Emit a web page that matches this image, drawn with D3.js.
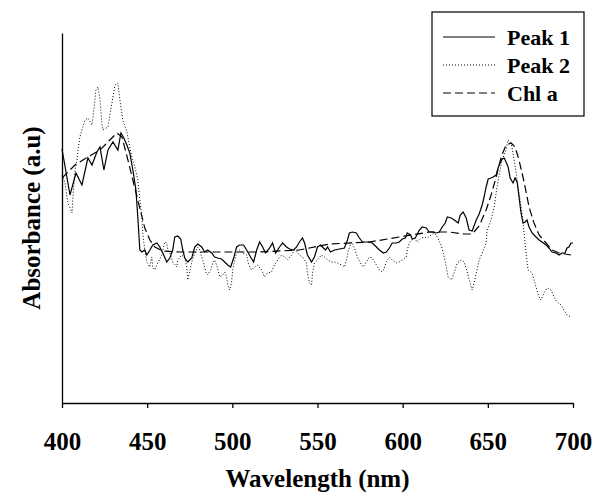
<!DOCTYPE html>
<html>
<head>
<meta charset="utf-8">
<script src="https://cdn.jsdelivr.net/npm/d3@7"></script>
<style>
  body { margin: 0; background: #fff; }
  svg text { font-family: "Liberation Serif", "Times New Roman", "DejaVu Serif", serif; font-weight: bold; fill: #000; }
</style>
</head>
<body>
<div id="viz"></div>
<script>
const width = 599;
const height = 493;
const margin = {top: 33, right: 25, bottom: 90, left: 62};
const fontFamily = '"Liberation Serif", "Times New Roman", "DejaVu Serif", serif';

// Peak 1 (solid)
const peak1Nm = [400, 404.7, 408.2, 411.7, 415.2, 417.6, 420.5, 422.3, 424.6, 427, 429.9, 432.8, 434.6, 436.3, 438.1, 439.8, 441.6, 443.4, 444.5, 445.7,
  446.9, 448.6, 449.8, 451.6, 453.3, 455.7, 457.4, 459.2, 461.5, 463.3, 465, 466.2, 468, 469.7, 470.9, 472.1, 473.8, 476.2, 477.9, 479.7,
  482, 483.8, 485.5, 487.9, 489.6, 491.4, 493.7, 495.5, 497.3, 499, 500.8, 502.5, 504.3, 506.6, 508.4, 510.7, 512.5, 514.3, 516, 517.8,
  519.5, 521.9, 523.6, 525.4, 527.7, 529.5, 531.8, 533.6, 535.9, 537.7, 539.4, 541.2, 542.4, 544.1, 546.5, 548.2, 550, 551.8, 552.9, 554.7,
  555.9, 557.6, 560, 562.9, 565.8, 567.6, 568.7, 570.5, 572.8, 574.6, 576.4, 578.7, 580.5, 582.2, 584.6, 586.3, 588.7, 590.4, 592.2, 593.9,
  596.3, 598, 599.8, 601.6, 602.7, 604.5, 605.7, 607.4, 609.8, 611.5, 613.9, 615.6, 617.4, 619.7, 621.5, 623.2, 625, 626.2, 628.5, 630.3,
  632.6, 633.8, 635.5, 637.3, 639, 640.8, 643.2, 644.9, 646.7, 647.8, 649, 650.2, 651.9, 653.1, 654.9, 656, 657.2, 658.4, 659.6, 660.7,
  661.9, 663.1, 664.8, 666, 667.2, 668.3, 669.5, 670.7, 671.9, 673, 674.2, 676, 678.3, 680.1, 681.8, 684.2, 685.9, 687.7, 690, 691.8,
  693.5, 695.3, 696.5, 697.6, 698.8, 700];
const peak1Abs = [2.54, 2.08, 2.30, 2.18, 2.45, 2.38, 2.51, 2.56, 2.33, 2.53, 2.61, 2.53, 2.70, 2.65, 2.58, 2.50, 2.33, 2.13, 1.86, 1.53,
  1.51, 1.53, 1.48, 1.53, 1.58, 1.60, 1.56, 1.50, 1.41, 1.45, 1.53, 1.66, 1.67, 1.64, 1.53, 1.45, 1.41, 1.45, 1.56, 1.59,
  1.56, 1.51, 1.53, 1.50, 1.46, 1.45, 1.44, 1.41, 1.38, 1.36, 1.45, 1.56, 1.58, 1.58, 1.53, 1.46, 1.41, 1.53, 1.61, 1.56,
  1.50, 1.55, 1.60, 1.50, 1.56, 1.60, 1.56, 1.54, 1.53, 1.56, 1.61, 1.65, 1.60, 1.48, 1.41, 1.46, 1.56, 1.58, 1.56, 1.53,
  1.56, 1.51, 1.53, 1.54, 1.55, 1.63, 1.70, 1.71, 1.70, 1.65, 1.61, 1.61, 1.61, 1.60, 1.56, 1.53, 1.50, 1.51, 1.55, 1.60,
  1.60, 1.61, 1.64, 1.65, 1.70, 1.68, 1.64, 1.65, 1.73, 1.76, 1.75, 1.71, 1.71, 1.70, 1.71, 1.76, 1.80, 1.86, 1.85, 1.83,
  1.80, 1.88, 1.91, 1.85, 1.73, 1.72, 1.83, 1.89, 1.98, 2.06, 2.16, 2.24, 2.25, 2.26, 2.28, 2.35, 2.40, 2.44, 2.45, 2.41,
  2.36, 2.25, 2.20, 2.25, 2.21, 2.06, 1.90, 1.80, 1.81, 1.83, 1.76, 1.70, 1.66, 1.63, 1.61, 1.58, 1.55, 1.51, 1.50, 1.48,
  1.50, 1.50, 1.55, 1.56, 1.60, 1.60];

// Peak 2 (dotted)
const peak2Nm = [400, 401.8, 402.9, 403.5, 405.9, 406.4, 407.6, 408.8, 409.4, 410.5, 411.7, 413.5, 415.2, 417.6, 418.7, 419.9, 421.1, 422.3, 423.4, 424,
  427, 429.3, 431.1, 432.8, 434, 435.7, 438.1, 439.8, 441, 442.8, 444.5, 445.7, 446.9, 447.5, 448.6, 449.8, 451.6, 452.7, 453.3, 454.5,
  456.2, 458.6, 460.3, 461.5, 462.1, 463.3, 465, 467.4, 468, 470.3, 472.1, 473.2, 473.8, 475, 476.2, 477.9, 479.7, 480.9, 482, 483.2,
  484.4, 485.5, 487.3, 488.5, 489.6, 490.8, 492.6, 494.3, 495.5, 496.7, 497.3, 498.4, 499.6, 500.2, 501.4, 502.5, 504.3, 506, 508.4, 509.6,
  511.3, 513.1, 514.8, 517.2, 518.9, 520.7, 523, 524.8, 526.6, 528.9, 530.7, 532.4, 534.8, 536.5, 538.3, 539.4, 541.2, 543.5, 544.1, 545.3,
  546.5, 547.1, 548.2, 550, 552.3, 554.1, 555.9, 558.2, 560, 561.7, 564.1, 565.8, 567, 568.2, 569.9, 571.7, 573.4, 575.8, 576.9, 578.7,
  580.5, 582.2, 584.6, 586.3, 588.1, 589.2, 590.4, 592.2, 593.9, 596.3, 598, 599.8, 602.1, 602.7, 603.9, 605.1, 606.8, 608.6, 610.9, 612.7,
  614.4, 616.8, 618.5, 620.3, 622.6, 624.4, 625.6, 626.7, 628.5, 629.1, 630.8, 632, 634.4, 636.1, 637.9, 639.6, 640.8, 642, 643.2, 644.9,
  646.7, 649, 649.6, 651.9, 653.7, 655.4, 657.2, 658.4, 660.7, 661.9, 663.7, 664.8, 666.6, 668.3, 670.1, 671.3, 672.4, 673.6, 676, 678.3,
  680.1, 681.2, 683, 684.8, 687.1, 688.9, 690.6, 693, 694.7, 696.5, 698.8];
const peak2Abs = [2.28, 2.20, 2.06, 2.00, 1.90, 2.06, 2.33, 2.43, 2.53, 2.66, 2.73, 2.83, 2.85, 2.78, 2.93, 3.13, 3.16, 3.03, 2.80, 2.73,
  2.76, 3.00, 3.18, 3.20, 3.03, 2.83, 2.71, 2.56, 2.46, 2.36, 2.23, 2.03, 1.86, 1.68, 1.53, 1.41, 1.36, 1.46, 1.36, 1.33,
  1.40, 1.48, 1.61, 1.60, 1.53, 1.50, 1.41, 1.36, 1.43, 1.48, 1.45, 1.36, 1.23, 1.31, 1.41, 1.50, 1.56, 1.53, 1.46, 1.40,
  1.31, 1.28, 1.33, 1.40, 1.43, 1.38, 1.26, 1.28, 1.31, 1.26, 1.18, 1.13, 1.21, 1.33, 1.43, 1.50, 1.53, 1.50, 1.48, 1.38,
  1.33, 1.36, 1.38, 1.33, 1.26, 1.30, 1.31, 1.38, 1.43, 1.48, 1.46, 1.43, 1.48, 1.53, 1.51, 1.48, 1.46, 1.40, 1.30, 1.20,
  1.18, 1.30, 1.40, 1.43, 1.48, 1.46, 1.43, 1.41, 1.41, 1.40, 1.38, 1.36, 1.43, 1.53, 1.61, 1.55, 1.46, 1.38, 1.36, 1.41,
  1.46, 1.45, 1.38, 1.33, 1.31, 1.35, 1.41, 1.46, 1.43, 1.40, 1.41, 1.43, 1.46, 1.53, 1.60, 1.63, 1.65, 1.61, 1.65, 1.66,
  1.65, 1.68, 1.70, 1.66, 1.58, 1.46, 1.36, 1.26, 1.23, 1.25, 1.33, 1.40, 1.43, 1.41, 1.31, 1.20, 1.13, 1.20, 1.30, 1.43,
  1.50, 1.60, 1.73, 1.83, 1.96, 2.16, 2.33, 2.43, 2.53, 2.63, 2.60, 2.50, 2.30, 2.10, 1.90, 1.70, 1.50, 1.33, 1.30, 1.16,
  1.06, 1.03, 1.10, 1.15, 1.13, 1.06, 1.01, 0.98, 0.93, 0.88, 0.86];

// Chl a (dashed)
const chlNm = [400, 407.6, 415.2, 422.3, 428.1, 432.2, 435.2, 438.7, 441.6, 444.5, 448.6, 451.6, 454.5, 459.2, 469.1, 492.6, 516, 539.4, 557, 580.5,
  598, 615.6, 627.3, 636.1, 640.8, 644.9, 649, 651.9, 654.9, 657.8, 660.7, 663.7, 666, 668.3, 671.3, 674.2, 677.1, 680.1, 684.2, 687.7,
  691.8, 698.8];
const chlAbs = [2.25, 2.38, 2.46, 2.53, 2.63, 2.70, 2.66, 2.43, 2.23, 2.03, 1.75, 1.63, 1.56, 1.52, 1.51, 1.51, 1.51, 1.53, 1.59, 1.61,
  1.66, 1.71, 1.71, 1.69, 1.69, 1.77, 1.93, 2.08, 2.26, 2.46, 2.58, 2.60, 2.56, 2.43, 2.21, 1.96, 1.80, 1.68, 1.60, 1.53,
  1.50, 1.48];

const seriesNames = ['Peak 1', 'Peak 2', 'Chl a'];
const xTicks = [400, 450, 500, 550, 600, 650, 700];

const series = [
  {name: seriesNames[0], nm: peak1Nm, abs: peak1Abs, dash: null, width: 1.2},
  {name: seriesNames[1], nm: peak2Nm, abs: peak2Abs, dash: '1,2', width: 1},
  {name: seriesNames[2], nm: chlNm, abs: chlAbs, dash: '8,4', width: 1.2}
];

const svg = d3.select('#viz')
  .append('svg')
    .attr('width', width)
    .attr('height', height);

const xScale = d3.scaleLinear()
  .domain([400, 700])
  .range([margin.left, width - margin.right - 1]);
const yScale = d3.scaleLinear()
  .domain([0, 3.7])
  .range([height - margin.bottom, margin.top]);

// x axis
const xAxisGroup = svg.append('g')
  .attr('transform', `translate(0, ${height - margin.bottom})`)
  .attr('font-family', fontFamily)
  .call(d3.axisBottom(xScale).tickValues(xTicks).tickSize(5).tickSizeOuter(0).tickFormat(d3.format('d')));
xAxisGroup.attr('font-family', fontFamily);
xAxisGroup.select('.domain').attr('stroke-width', 1.3);
xAxisGroup.selectAll('.tick line').attr('stroke-width', 1.3);
xAxisGroup.selectAll('.tick text')
  .attr('y', 47)
  .attr('dy', 0)
  .attr('font-family', fontFamily)
  .attr('font-weight', 'bold')
  .attr('font-size', 25);

// y axis (no ticks)
const yAxisGroup = svg.append('g')
  .attr('transform', `translate(${margin.left}, 0)`)
  .call(d3.axisLeft(yScale).tickValues([]).tickSizeOuter(0));
yAxisGroup.select('.domain').attr('stroke-width', 1.3);

svg.append('text')
  .attr('x', (xScale(400) + xScale(700)) / 2)
  .attr('y', 487)
  .attr('text-anchor', 'middle')
  .attr('font-family', fontFamily)
  .attr('font-weight', 'bold')
  .attr('font-size', 25)
  .text('Wavelength (nm)');

svg.append('text')
  .attr('transform', `translate(40, ${(yScale(0) + yScale(3.7)) / 2}) rotate(-90)`)
  .attr('text-anchor', 'middle')
  .attr('font-family', fontFamily)
  .attr('font-weight', 'bold')
  .attr('font-size', 25)
  .text('Absorbance (a.u)');

// lines
const line = d3.line()
  .x(d => xScale(d[0]))
  .y(d => yScale(d[1]));

svg.append('g')
  .selectAll('path')
  .data(series)
  .join('path')
    .attr('d', s => line(s.nm.map((n, i) => [n, s.abs[i]])))
    .attr('fill', 'none')
    .attr('stroke', '#000')
    .attr('stroke-width', s => s.width)
    .attr('stroke-dasharray', s => s.dash);

// legend
const legend = svg.append('g').attr('class', 'legend');
legend.append('rect')
  .attr('x', 432)
  .attr('y', 12)
  .attr('width', 152)
  .attr('height', 104)
  .attr('fill', '#fff')
  .attr('stroke', '#000')
  .attr('stroke-width', 1.2);
const rows = legend.selectAll('.row')
  .data(series)
  .join('g')
    .attr('class', 'row')
    .attr('transform', (d, i) => `translate(0, ${37 + i * 28})`);
rows.append('line')
  .attr('x1', 443)
  .attr('x2', 495)
  .attr('stroke', '#000')
  .attr('stroke-width', s => s.dash === '1,2' ? 1 : 1.2)
  .attr('stroke-dasharray', s => s.dash);
rows.append('text')
  .attr('x', 507)
  .attr('y', 8)
  .attr('font-family', fontFamily)
  .attr('font-weight', 'bold')
  .attr('font-size', 22)
  .text(s => s.name);
</script>
</body>
</html>
